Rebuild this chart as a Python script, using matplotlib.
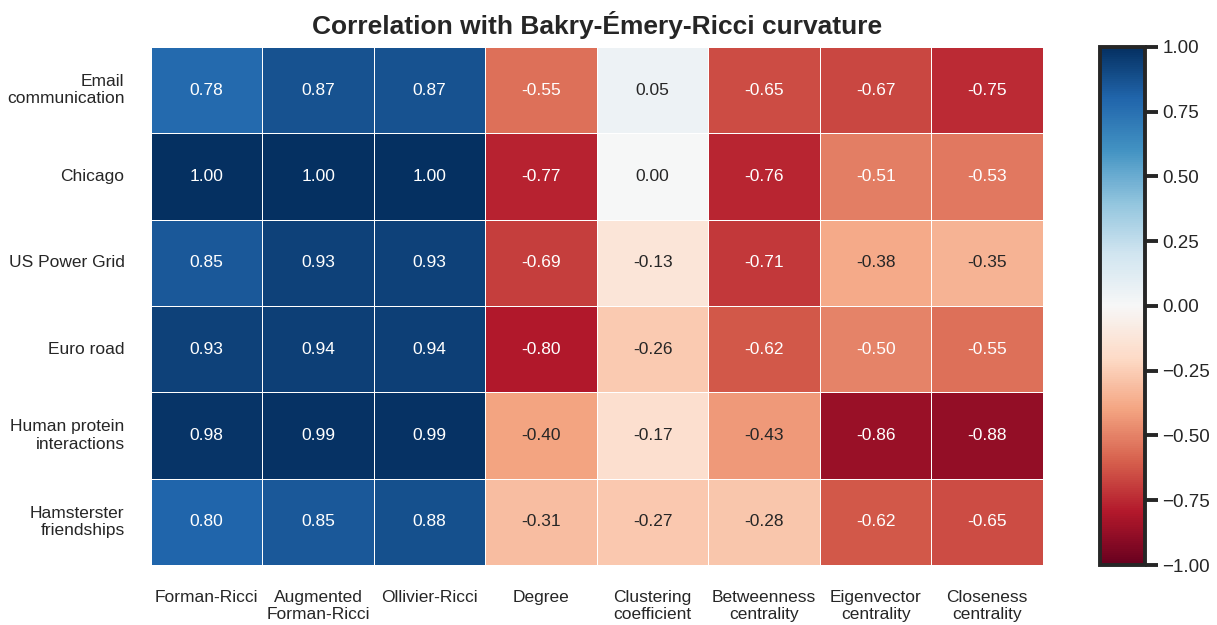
import numpy as np
import matplotlib.pyplot as plt
import seaborn as sns

# --- datos ---
networks = ["Email\ncommunication", "Chicago", "US Power Grid", "Euro road",
            "Human protein\ninteractions", "Hamsterster\nfriendships"]
measures = ["Forman-Ricci", "Augmented\nForman-Ricci", "Ollivier-Ricci", "Degree",
            "Clustering\ncoefficient", "Betweenness\ncentrality", "Eigenvector\ncentrality",
            "Closeness\ncentrality"]

email = [0.78, 0.87, 0.87, -0.55, 0.05, -0.65, -0.67, -0.75]
chicago = [1.00, 1.00, 1.00, -0.77, 0.00, -0.76, -0.51, -0.53]
power_grid = [0.85, 0.93, 0.93, -0.69, -0.13, -0.71, -0.38, -0.35]
euro_road = [0.93, 0.94, 0.94, -0.80, -0.26, -0.62, -0.50, -0.55]
protein = [0.98, 0.99, 0.99, -0.40, -0.17, -0.43, -0.86, -0.88]
hamsterster = [0.80, 0.85, 0.88, -0.31, -0.27, -0.28, -0.62, -0.65]

corr = np.array([email, chicago, power_grid, euro_road, protein, hamsterster])

# --- figura ---
sns.set_theme(style="ticks")
plt.rcParams['font.family'] = ['Liberation Sans', 'DejaVu Sans']

fig = plt.figure(figsize=(12.17, 6.25), dpi=100)
ax = fig.add_axes([0.124, 0.096, 0.733, 0.829])
cax = fig.add_axes([0.904, 0.096, 0.037, 0.829])

sns.heatmap(corr, ax=ax, cbar_ax=cax, cmap="RdBu", vmin=-1, vmax=1,
            annot=True, fmt=".2f", annot_kws={"size": 12.5},
            linewidths=0.5, linecolor="white",
            xticklabels=measures, yticklabels=networks)

ax.tick_params(axis="both", length=0, labelsize=12.5)
ax.tick_params(axis="x", pad=18)
ax.tick_params(axis="y", pad=19)
plt.setp(ax.get_yticklabels(), rotation=0, ha="right", multialignment="right")
plt.setp(ax.get_xticklabels(), rotation=0, va="top")
ax.set_title("Correlation with Bakry-Émery-Ricci curvature",
             fontsize=19, fontweight="bold", pad=9)

cbar = ax.collections[0].colorbar
cbar.set_ticks([-1, -0.75, -0.5, -0.25, 0, 0.25, 0.5, 0.75, 1])
cbar.ax.tick_params(labelsize=13.5, length=9, width=2.8)
cbar.outline.set_linewidth(2.8)
cbar.outline.set_edgecolor("#262626")

fig.savefig("out.png", dpi=100)
